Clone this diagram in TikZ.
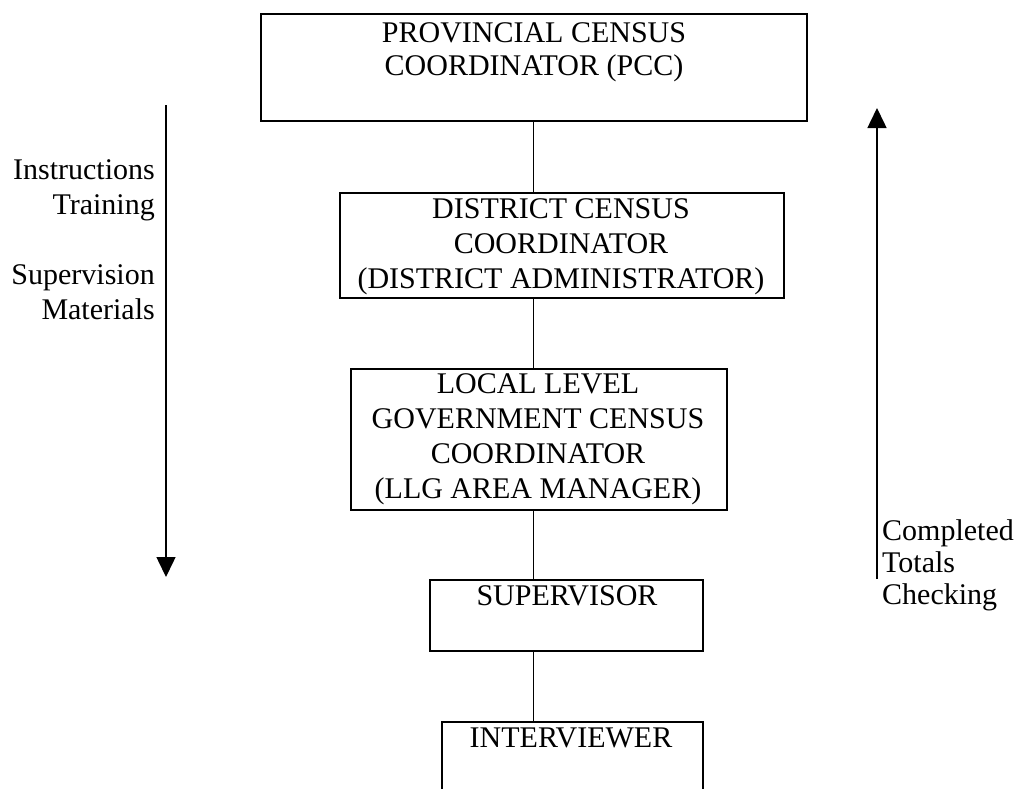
\documentclass[tikz,border=0pt]{standalone}
\usepackage{fontspec}
\setmainfont{Liberation Serif}
\usetikzlibrary{arrows.meta}
\tikzset{
  box/.style={draw, line width=1.4pt, inner sep=0pt},
  lbl/.style={inner sep=0pt, font=\fontsize{30}{35}\selectfont},
  conn/.style={line width=1pt},
  flow/.style={line width=1.5pt, -{Triangle[width=19pt,length=20pt]}}
}
\begin{document}
\begin{tikzpicture}[x=1pt,y=-1pt]
\useasboundingbox (0,0) rectangle (1029,788);
\clip (0,0) rectangle (1029,788);
% boxes
\node[box, minimum width=546pt, minimum height=107pt] (pcc) at (534,67.5) {};
\node[box, minimum width=444pt, minimum height=105pt] (dis) at (562,245.5) {};
\node[box, minimum width=376pt, minimum height=141pt] (llg) at (539,439.5) {};
\node[box, minimum width=273pt, minimum height=71pt] (sup) at (566.5,615.5) {};
\node[box, minimum width=261pt, minimum height=90pt] (int) at (572.5,767) {};
% box texts (anchor base = baseline of the last line)
\node[lbl, align=center, anchor=base, font=\fontsize{30}{33}\selectfont] (pcct) at (534,75) {PROVINCIAL CENSUS\\COORDINATOR (PCC)};
\node[lbl, align=center, anchor=base] (dist) at (561,288) {DISTRICT CENSUS\\COORDINATOR\\(DISTRICT ADMINISTRATOR)};
\node[lbl, align=center, anchor=base] (llgt) at (538,498) {LOCAL LEVEL\\GOVERNMENT CENSUS\\COORDINATOR\\(LLG AREA MANAGER)};
\node[lbl, anchor=base] (supt) at (567,605) {SUPERVISOR};
\node[lbl, anchor=base] (intt) at (571,747) {INTERVIEWER};
% connectors
\draw[conn] ([xshift=-1pt]pcc.south) -- ([xshift=-1pt]pcc.south |- dis.north);
\draw[conn] ([xshift=-1pt]pcc.south |- dis.south) -- ([xshift=-1pt]pcc.south |- llg.north);
\draw[conn] ([xshift=-1pt]pcc.south |- llg.south) -- ([xshift=-1pt]pcc.south |- sup.north);
\draw[conn] ([xshift=-1pt]pcc.south |- sup.south) -- ([xshift=-1pt]pcc.south |- int.north);
% side arrows
\coordinate (la) at (166,105);
\coordinate (lb) at (166,577);
\coordinate (ra) at (877,579);
\coordinate (rb) at (877,108);
\draw[flow] (la) -- (lb);
\draw[flow] (ra) -- (rb);
% side labels
\node[lbl, align=right, anchor=base east] (left) at (155,319) {Instructions\\Training\\[35pt]Supervision\\Materials};
\node[lbl, align=left, anchor=base west, font=\fontsize{30}{32}\selectfont] (right) at (882,604) {Completed\\Totals\\Checking};
\end{tikzpicture}
\end{document}
